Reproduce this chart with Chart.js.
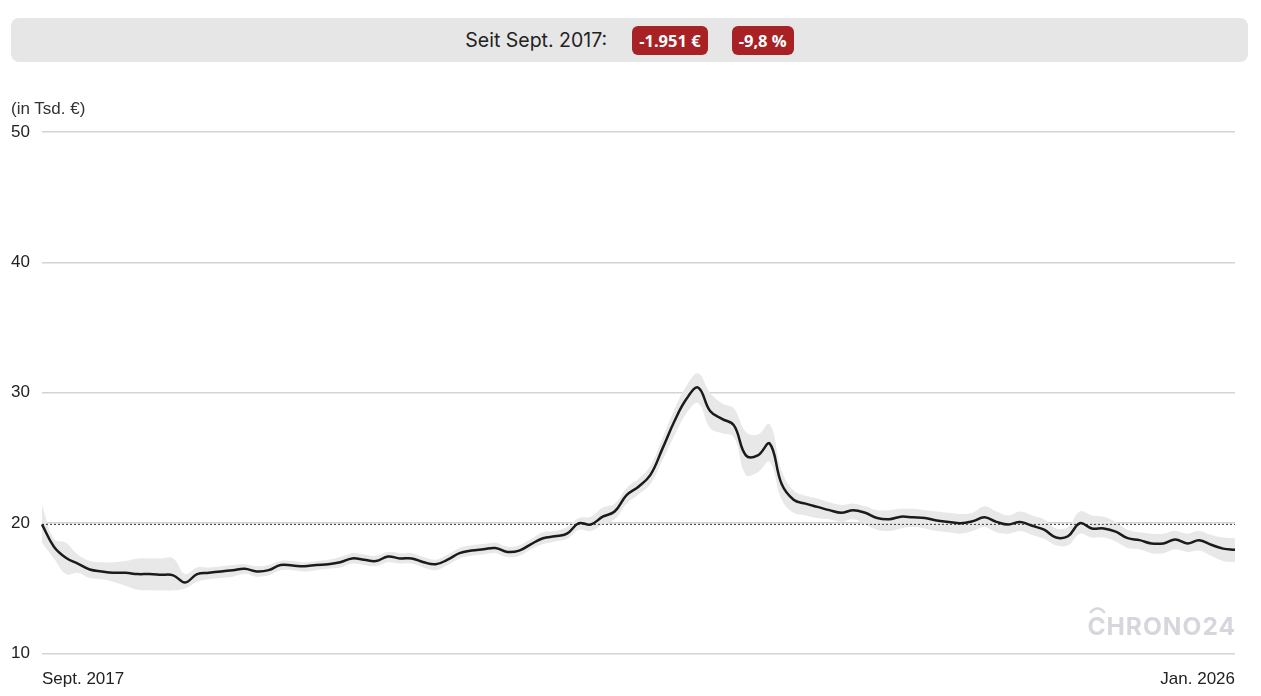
<!DOCTYPE html>
<html>
<head>
<meta charset="utf-8">
<script src="https://cdn.jsdelivr.net/npm/chart.js@4.4.1/dist/chart.umd.min.js"></script>
<style>
  html, body { margin: 0; padding: 0; background: #fff; }
  body { width: 1261px; height: 696px; position: relative; overflow: hidden; font-family: "Liberation Sans", Arial, sans-serif; }
  #summary {
    position: absolute; left: 11px; top: 18px; width: 1237px; height: 44px;
    background: #e6e6e6; border-radius: 8px;
    display: flex; align-items: center; justify-content: center;
  }
  #summary .label { font-family: Inter, sans-serif; font-size: 19.5px; color: #222; margin-right: 25px; }
  #summary .badge {
    font-family: "Open Sans", sans-serif;
    background: #a82225; color: #fff; font-weight: bold; font-size: 16.5px;
    height: 29px; line-height: 29px; padding: 0 7px; border-radius: 6px;
  }
  #summary .badge + .badge { margin-left: 24px; }
  #unit { position: absolute; left: 11px; top: 99px; font-size: 17px; color: #333; }
  #wrap { position: absolute; left: 0; top: 0; width: 1261px; height: 716px; }
</style>
</head>
<body>
<div id="wrap"><canvas id="priceChart"></canvas></div>
<div id="summary">
  <span class="label">Seit Sept. 2017:</span>
  <span class="badge">-1.951 €</span>
  <span class="badge">-9,8 %</span>
</div>
<div id="unit">(in Tsd. €)</div>

<script>
// monthly, Sept. 2017 .. Jan. 2026 (in Tsd. €)
const firstLabel = 'Sept. 2017';
const lastLabel = 'Jan. 2026';
const startValue = 19.91;

const price = [
  19.91, 18.2, 17.35, 16.9, 16.45, 16.3, 16.2, 16.2, 16.1, 16.1,
  16.05, 16.0, 15.45, 16.1, 16.2, 16.3, 16.4, 16.5, 16.3, 16.4,
  16.8, 16.75, 16.7, 16.8, 16.85, 17.0, 17.3, 17.2, 17.1, 17.45,
  17.3, 17.3, 17.0, 16.85, 17.2, 17.7, 17.9, 18.0, 18.1, 17.8,
  17.9, 18.4, 18.85, 19.0, 19.2, 20.0, 19.9, 20.5, 20.9, 22.15,
  22.8, 23.7, 25.7, 27.8, 29.5, 30.4, 28.6, 28.0, 27.5, 25.2,
  25.2, 26.1, 23.0, 21.8, 21.5, 21.25, 21.0, 20.8, 21.0, 20.8,
  20.4, 20.3, 20.5, 20.45, 20.4, 20.2, 20.1, 20.0, 20.15, 20.45,
  20.1, 19.9, 20.1, 19.8, 19.5, 18.9, 19.0, 20.0, 19.6, 19.6,
  19.35, 18.85, 18.7, 18.45, 18.45, 18.75, 18.45, 18.7, 18.35, 18.05,
  17.96
];

const bandHigh = [
  21.4, 18.8, 18.5, 17.6, 17.1, 17.0, 17.0, 17.1, 17.3, 17.3,
  17.3, 17.3, 16.1, 16.6, 16.6, 16.7, 16.8, 16.85, 16.7, 16.8,
  17.1, 17.1, 17.0, 17.1, 17.2, 17.4, 17.7, 17.6, 17.5, 17.8,
  17.7, 17.7, 17.4, 17.2, 17.6, 18.1, 18.3, 18.4, 18.5, 18.2,
  18.3, 18.8, 19.3, 19.4, 19.7, 20.4, 20.5, 21.2, 21.5, 22.7,
  23.4, 24.4, 26.5, 28.7, 30.5, 31.5, 30.0, 29.2, 28.8, 27.0,
  26.8, 27.6, 24.0, 22.5, 22.1, 21.9, 21.6, 21.4, 21.5, 21.3,
  21.0, 21.0, 21.1, 21.1, 21.0, 20.9, 20.8, 20.7, 20.8, 21.3,
  20.9, 20.6, 20.9, 20.6, 20.3, 19.6, 19.7, 20.9, 20.6, 20.5,
  20.1, 19.5, 19.3, 19.2, 19.2, 19.4, 19.2, 19.4, 19.1, 18.9,
  18.85
];

const bandLow = [
  18.5, 17.3, 16.1, 16.2, 15.8, 15.7, 15.5, 15.2, 14.9, 14.85,
  14.85, 14.85, 15.0, 15.5, 15.7, 15.8, 15.9, 16.1, 15.9, 16.0,
  16.4, 16.4, 16.3, 16.4, 16.5, 16.6, 16.9, 16.8, 16.7, 17.0,
  16.9, 16.9, 16.6, 16.4, 16.8, 17.3, 17.5, 17.6, 17.7, 17.4,
  17.5, 18.0, 18.4, 18.6, 18.8, 19.5, 19.4, 19.9, 20.3, 21.5,
  22.2, 23.0, 24.8, 26.7, 28.4, 29.2, 27.3, 26.9, 26.6, 23.7,
  23.9, 24.7, 21.8, 20.8, 20.6, 20.4, 20.3, 20.1, 20.3, 19.9,
  19.5, 19.4, 19.6, 19.7, 19.6, 19.4, 19.3, 19.2, 19.4, 19.7,
  19.3, 19.2, 19.4, 19.1, 18.8, 18.3, 18.3, 19.2, 18.9, 18.9,
  18.6, 18.1, 18.0, 17.7, 17.7, 18.0, 17.8, 17.9, 17.5, 17.1,
  17.0
];

const yTicks = [10, 20, 30, 40, 50];

const labels = price.map((v, i) => i === 0 ? firstLabel : (i === price.length - 1 ? lastLabel : ''));
const refLine = price.map(() => startValue);

// watermark, drawn bottom-right of the plot area
const watermark = {
  id: 'watermark',
  afterDraw(chart) {
    const ctx = chart.ctx;
    const area = chart.chartArea;
    ctx.save();
    ctx.font = 'bold 24.5px Inter, "Liberation Sans", sans-serif';
    ctx.letterSpacing = '1px';
    ctx.fillStyle = '#d6d6dc';
    ctx.strokeStyle = '#d6d6dc';
    ctx.textAlign = 'right';
    ctx.textBaseline = 'alphabetic';
    const right = area.right + 1;
    const base = area.bottom - 19;
    ctx.fillText('CHRONO24', right, base);
    const w = ctx.measureText('CHRONO24').width;
    const cx = right - w + 9;
    ctx.lineWidth = 2.5;
    ctx.beginPath();
    ctx.arc(cx + 1, base - 18, 8, Math.PI * 1.15, Math.PI * 1.85);
    ctx.stroke();
    ctx.restore();
  }
};

const ctx = document.getElementById('priceChart').getContext('2d');
new Chart(ctx, {
  type: 'line',
  data: {
    labels: labels,
    datasets: [
      {
        label: 'Preis',
        data: price,
        borderColor: '#1b1b1b',
        borderWidth: 2.5,
        pointRadius: 0,
        tension: 0.4,
        fill: false,
        order: 0
      },
      {
        label: 'Start',
        data: refLine,
        borderColor: '#333',
        borderWidth: 1,
        borderDash: [2, 2],
        pointRadius: 0,
        fill: false,
        order: 1
      },
      {
        label: 'high',
        data: bandHigh,
        borderWidth: 0,
        borderColor: 'rgba(0,0,0,0)',
        backgroundColor: '#e8e8e8',
        pointRadius: 0,
        tension: 0.4,
        fill: '+1',
        order: 2
      },
      {
        label: 'low',
        data: bandLow,
        borderWidth: 0,
        borderColor: 'rgba(0,0,0,0)',
        pointRadius: 0,
        tension: 0.4,
        fill: false,
        order: 3
      }
    ]
  },
  options: {
    responsive: true,
    maintainAspectRatio: false,
    animation: false,
    layout: { padding: { top: 132, left: 11, right: 26, bottom: 10 } },
    plugins: {
      legend: { display: false },
      tooltip: { enabled: false }
    },
    scales: {
      x: {
        grid: { display: false, drawTicks: false },
        border: { display: false },
        ticks: {
          autoSkip: false,
          maxRotation: 0,
          align: 'inner',
          padding: 16,
          color: '#222',
          font: { size: 17, family: '"Liberation Sans", Arial, sans-serif' },
          callback: function (value, index) { return labels[index] || null; }
        }
      },
      y: {
        min: 10,
        max: 50,
        afterBuildTicks: function (scale) { scale.ticks = yTicks.map(v => ({ value: v })); },
        afterFit: function (scale) { scale.width = 31; },
        grid: { color: '#d4d4d4', lineWidth: 1.5, drawTicks: false },
        border: { display: false },
        ticks: {
          crossAlign: 'far',
          padding: 12,
          color: '#222',
          font: { size: 17, family: '"Liberation Sans", Arial, sans-serif' }
        }
      }
    }
  },
  plugins: [watermark]
});
</script>
</body>
</html>
